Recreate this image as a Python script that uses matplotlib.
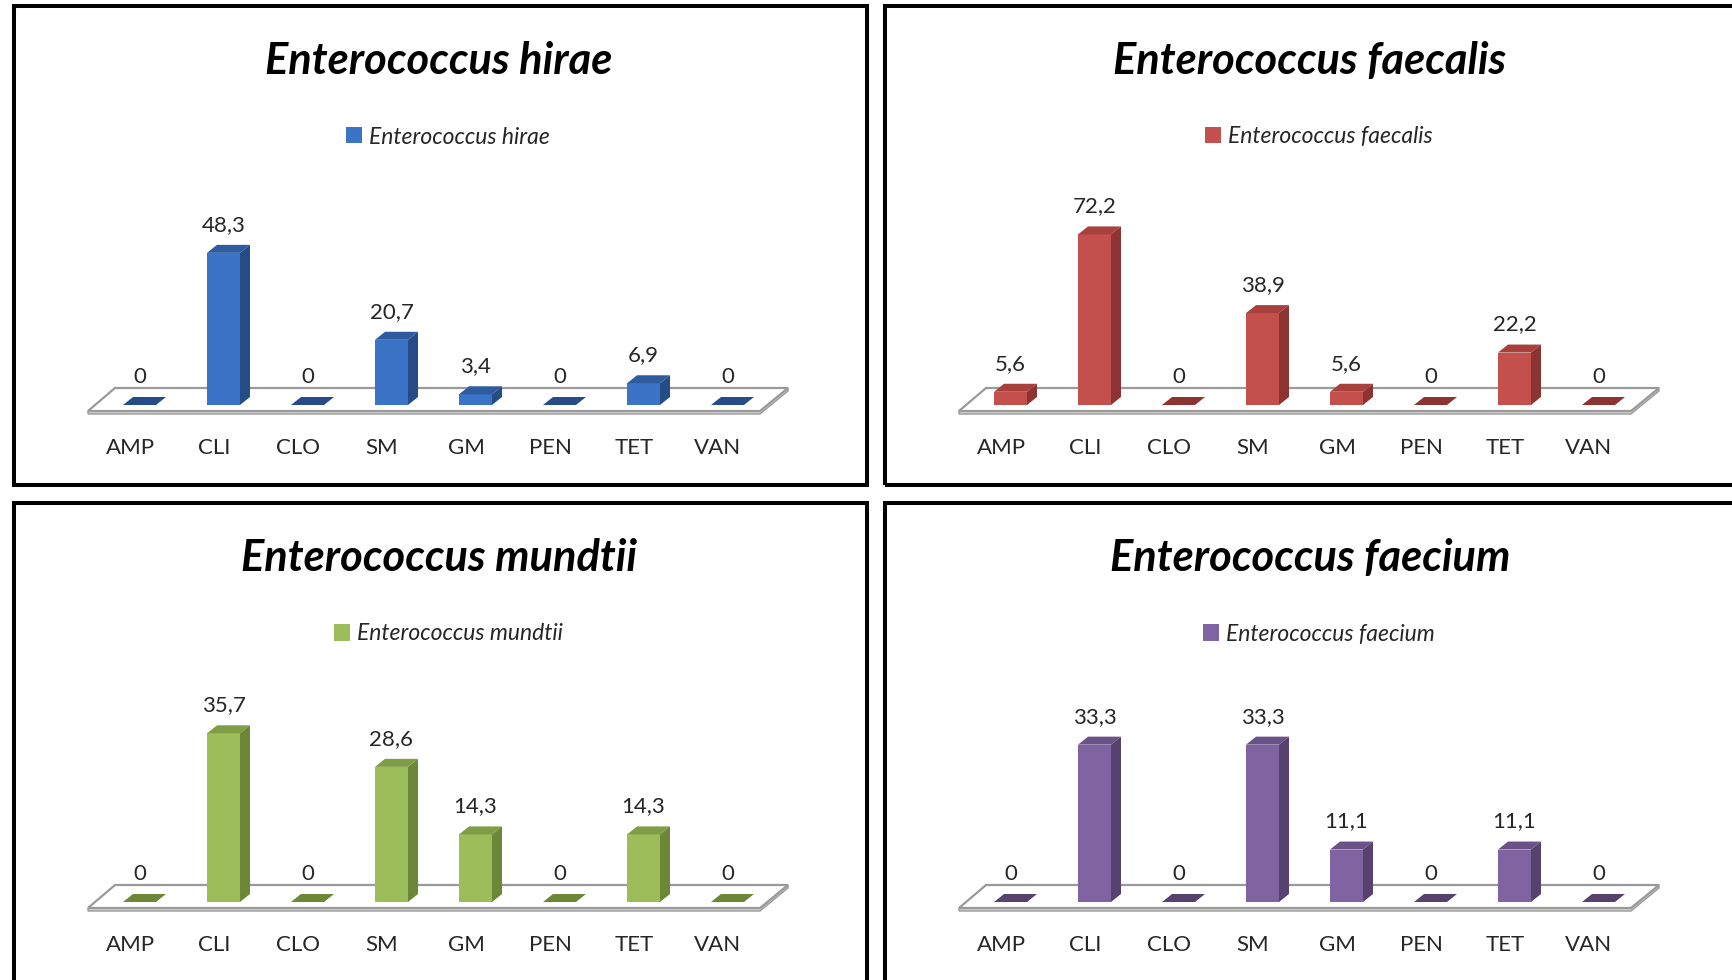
import math
import matplotlib
matplotlib.use('Agg')
import matplotlib.pyplot as plt
from matplotlib.patches import Polygon, Rectangle, Patch

plt.rcParams['font.family'] = ['Lato', 'DejaVu Sans']

antibiotics = ['AMP', 'CLI', 'CLO', 'SM', 'GM', 'PEN', 'TET', 'VAN']
species = ['Enterococcus hirae', 'Enterococcus faecalis',
           'Enterococcus mundtii', 'Enterococcus faecium']
hirae = [0, 48.3, 0, 20.7, 3.4, 0, 6.9, 0]
faecalis = [5.6, 72.2, 0, 38.9, 5.6, 0, 22.2, 0]
mundtii = [0, 35.7, 0, 28.6, 14.3, 0, 14.3, 0]
faecium = [0, 33.3, 0, 33.3, 11.1, 0, 11.1, 0]

W, H = 1733, 980
fig = plt.figure(figsize=(W / 100, H / 100), dpi=100)
fig.patch.set_facecolor('white')


def fx(px):
    return px / W


def fy(py):
    return 1 - py / H


# front, side, top colours
palettes = [
    ('#3B73C6', '#264C88', '#2E5C9E'),
    ('#C4504D', '#8C3431', '#A8403D'),
    ('#9DBD5B', '#6B8737', '#7E9D45'),
    ('#8064A2', '#56416F', '#6A5288'),
]
offsets = [(0, 0), (871, 0), (0, 497), (871, 497)]
series = [hirae, faecalis, mundtii, faecium]

# fit title size
renderer = fig.canvas.get_renderer()
probe = fig.text(0, 0, species[0], fontsize=30, fontweight='bold', style='italic')
wpx = probe.get_window_extent(renderer).width
probe.remove()
title_size = 30 * 347 / wpx

CAT_PX = 84.0
PLOT_H = 189.0
txt_color = '#262626'

for vals, name, (ox, oy), (cf, cs, ct) in zip(series, species, offsets, palettes):
    # panel frame
    fig.add_artist(Rectangle((fx(14 + ox), fy(485 + oy)), (867 - 14) / W, (485 - 6) / H,
                             transform=fig.transFigure, fill=False,
                             edgecolor='black', lw=2.9, zorder=10))
    ax = fig.add_axes([fx(97.5 + ox), fy(405 + oy), 8 * CAT_PX / W, PLOT_H / H])
    ymax = math.ceil(max(vals) / 20) * 20
    ax.set_xlim(-0.5, 7.5)
    ax.set_ylim(0, ymax)
    ax.axis('off')
    ux = 1 / CAT_PX
    uy = ymax / PLOT_H
    n = len(antibiotics)
    # floor slab
    fl = -0.5 - 9.5 * ux
    fr = n - 0.5 - 9.5 * ux
    bl = -0.5 + 17.5 * ux
    br = n - 0.5 + 18.5 * ux
    yf = -6 * uy
    yb = 17 * uy
    th = 3.0 * uy
    ax.add_patch(Polygon([(fl, yf - th), (fr, yf - th), (br, yb - th), (br, yb), (fr, yf), (fl, yf)],
                         closed=True, facecolor='#CFCFCF', edgecolor='#9A9A9A', lw=1.0,
                         clip_on=False, zorder=1))
    ax.add_patch(Polygon([(fl, yf), (fr, yf), (br, yb), (bl, yb)], closed=True,
                         facecolor='white', edgecolor='#9A9A9A', lw=1.6,
                         clip_on=False, zorder=1.5))
    w = 33 / CAT_PX
    dx = 10 * ux
    dy = 8 * uy
    x = list(range(n))
    ax.bar(x, vals, width=w, color=cf, zorder=3, clip_on=False, linewidth=0)
    for i, v in enumerate(vals):
        top = [(i - w / 2, v), (i + w / 2, v), (i + w / 2 + dx, v + dy), (i - w / 2 + dx, v + dy)]
        ax.add_patch(Polygon(top, closed=True, facecolor=ct if v > 0 else cs,
                             edgecolor='none', clip_on=False, zorder=3))
        if v > 0:
            side = [(i + w / 2, 0), (i + w / 2 + dx, dy), (i + w / 2 + dx, v + dy), (i + w / 2, v)]
            ax.add_patch(Polygon(side, closed=True, facecolor=cs, edgecolor='none',
                                 clip_on=False, zorder=3))
        lbl = '0' if v == 0 else f'{v:.1f}'.replace('.', ',')
        ax.annotate(lbl, (i, v), xytext=(0, 28), textcoords='offset pixels',
                    ha='center', va='center', fontsize=16, color=txt_color,
                    annotation_clip=False)
        ax.annotate(antibiotics[i], (i, 0), xytext=(-9.5, -43), textcoords='offset pixels',
                    ha='center', va='center', fontsize=16, color=txt_color,
                    annotation_clip=False)
    fig.text(fx(439 + ox), fy(61 + oy), name, ha='center', va='center',
             fontsize=title_size, fontweight='bold', style='italic', color='black')
    fig.legend(handles=[Patch(facecolor=cf, edgecolor='none')], labels=[name],
               loc='center', bbox_to_anchor=(fx(448 + ox), fy(137 + oy)),
               bbox_transform=fig.transFigure, frameon=False,
               prop=dict(style='italic', size=16.5), labelcolor=txt_color,
               handlelength=0.7, handleheight=0.7, handletextpad=0.3,
               borderpad=0, borderaxespad=0)

fig.savefig('out.png', dpi=100, facecolor='white')
